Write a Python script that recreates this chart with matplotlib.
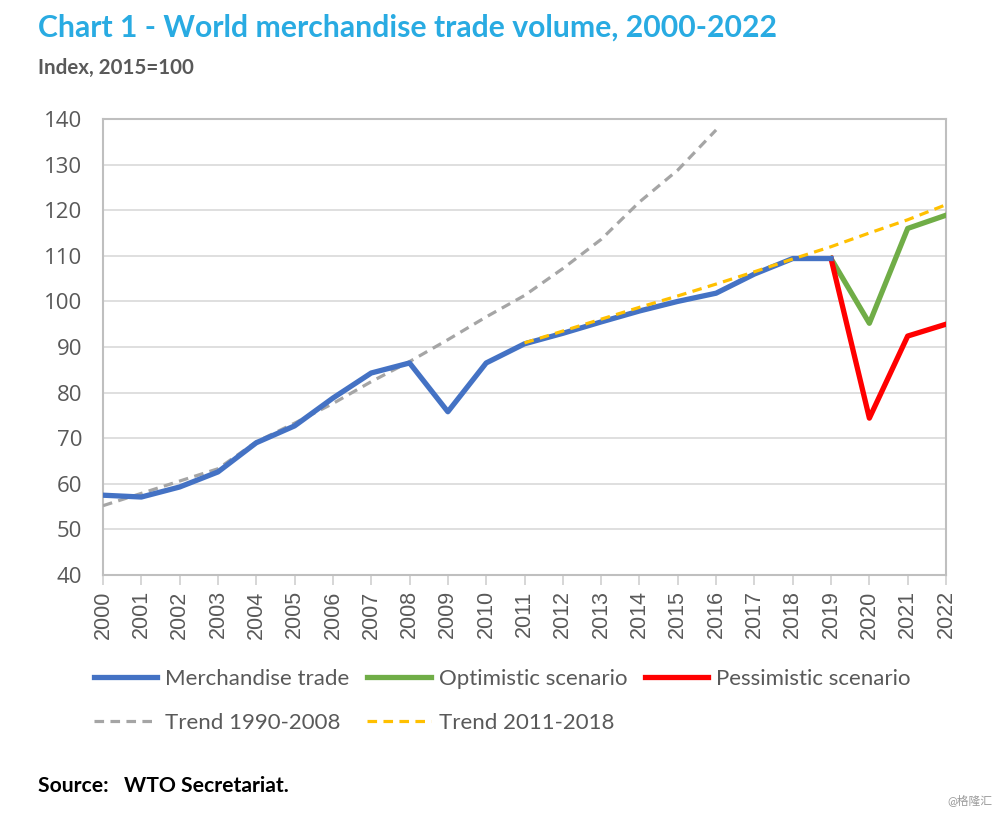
import matplotlib
matplotlib.use('Agg')
import matplotlib.pyplot as plt
from matplotlib.lines import Line2D

plt.rcParams['font.family'] = ['Lato', 'Noto Sans CJK SC', 'DejaVu Sans']

# data (index, 2015=100)
years = list(range(2000, 2023))
trade_years = list(range(2000, 2020))
trade = [57.5, 57.1, 59.3, 62.6, 69.0, 72.7, 78.8, 84.3, 86.5, 75.8,
         86.5, 90.7, 93.0, 95.5, 97.9, 100.0, 101.8, 106.0, 109.4, 109.4]
scen_years = [2019, 2020, 2021, 2022]
optimistic = [109.4, 95.2, 116.0, 118.9]
pessimistic = [109.4, 74.4, 92.4, 95.0]
trend1_years = list(range(2000, 2017))
trend1 = [55.2, 57.9, 60.6, 63.3, 69.2, 73.3, 77.6, 82.4, 86.8, 91.6,
          96.6, 101.3, 107.2, 113.6, 121.8, 128.8, 137.6]
trend2_years = list(range(2011, 2023))
trend2 = [90.9, 93.5, 96.1, 98.7, 101.2, 103.8, 106.5, 109.3, 112.0, 115.0, 117.9, 121.2]

BLUE = '#4472C4'
GREEN = '#70AD47'
RED = '#FF0000'
GREY = '#A5A5A5'
GOLD = '#FFC000'
TXT = '#595959'

fig = plt.figure(figsize=(10, 8.15), dpi=100)
ax = fig.add_axes([0.103, 1 - 575 / 815, 0.843, (575 - 119) / 815])

ax.plot(trend1_years, trend1, color=GREY, lw=2.3, ls=(0, (3, 2)), zorder=3)
ax.plot(scen_years, optimistic, color=GREEN, lw=3.8, zorder=4)
ax.plot(scen_years, pessimistic, color=RED, lw=3.8, zorder=4)
ax.plot(trade_years, trade, color=BLUE, lw=3.8, zorder=4, solid_joinstyle='round')
ax.plot(trend2_years, trend2, color=GOLD, lw=2.3, ls=(0, (3, 2)), zorder=5)

ax.set_xlim(2000, 2022)
ax.set_ylim(40, 140)
ax.set_yticks(range(40, 141, 10))
ax.set_xticks(years)
ax.set_xticklabels([str(y) for y in years], rotation=90)
ax.grid(axis='y', color='#D9D9D9', lw=1.2)
ax.set_axisbelow(True)
for s in ax.spines.values():
    s.set_color('#BFBFBF')
    s.set_linewidth(1.5)
ax.tick_params(axis='y', length=0, pad=15, labelsize=16, labelcolor=TXT)
ax.tick_params(axis='x', length=7, width=1.2, color='#D0D0D0', pad=4, labelsize=15.5, labelcolor=TXT)
for lab in ax.get_yticklabels():
    lab.set_family(['Open Sans', 'DejaVu Sans'])
for lab in ax.get_xticklabels():
    lab.set_family(['Liberation Sans', 'DejaVu Sans'])

# legend, ordered so rows read like the original
handles = [
    Line2D([], [], color=BLUE, lw=3.8),
    Line2D([], [], color=GREY, lw=2.3, ls=(0, (3, 2))),
    Line2D([], [], color=GREEN, lw=3.8),
    Line2D([], [], color=GOLD, lw=2.3, ls=(0, (3, 2))),
    Line2D([], [], color=RED, lw=3.8),
]
labels = ['Merchandise trade', 'Trend 1990-2008', 'Optimistic scenario',
          'Trend 2011-2018', 'Pessimistic scenario']
leg = fig.legend(handles, labels, ncol=3, loc='center left', bbox_to_anchor=(0.094, 0.140),
                 frameon=False, fontsize=16, handlelength=2.85, handletextpad=0.36,
                 columnspacing=0.8, labelspacing=1.05, borderaxespad=0, borderpad=0)
for t in leg.get_texts():
    t.set_color(TXT)

fig.text(0.038, 0.966, 'Chart 1 - World merchandise trade volume, 2000-2022',
         color='#29ABE2', fontsize=21.7, fontweight='bold', va='center')
fig.text(0.038, 0.916, 'Index, 2015=100', color=TXT, fontsize=14.8,
         fontweight='bold', va='center')
fig.text(0.038, 0.036, 'Source:   WTO Secretariat.', color='black', fontsize=15.2,
         fontweight='bold', va='center')
fig.text(0.992, 0.018, '@格隆汇', color='#9A9A9A', fontsize=8.5, ha='right', va='center')

fig.savefig('out.png', dpi=100, facecolor='white')
